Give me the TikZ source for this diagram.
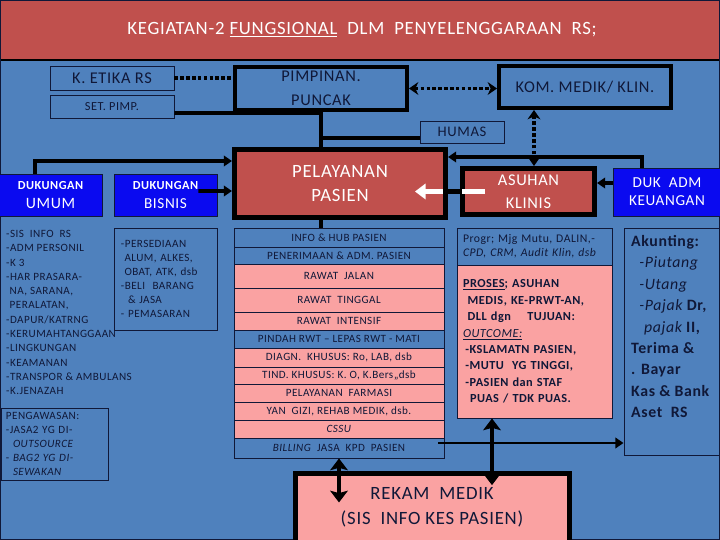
\documentclass[tikz,border=0pt]{standalone}
\usepackage{fontspec}
\setmainfont{Carlito}[LetterSpace=4]
\usetikzlibrary{arrows.meta}
\definecolor{slidered}{RGB}{192,80,77}
\definecolor{slideblue}{RGB}{79,129,189}
\definecolor{brightblue}{RGB}{10,10,240}
\definecolor{pinkfill}{RGB}{250,162,162}
\definecolor{inkblue}{RGB}{16,24,56}
\newcommand{\softit}[1]{{\mdseries\itshape #1}}
\begin{document}
\begin{tikzpicture}[x=0.03cm,y=-0.03cm,
    every node/.style={text=inkblue},
    thinbox/.style={draw=inkblue,line width=0.8pt,inner sep=0pt},
    heavybox/.style={draw=black,inner sep=0pt},
    bluerow/.style={thinbox,fill=slideblue,minimum width=6.3cm,font=\fontsize{9.5}{10}\selectfont},
    pinkrow/.style={bluerow,fill=pinkfill},
    conn/.style={draw=black,line width=3.4pt},
    dotconn/.style={conn,dash pattern=on 3pt off 2pt},
    bigtwoway/.style={conn,line width=4pt,arrows={Stealth[length=10pt,width=15pt,inset=2pt]-Stealth[length=10pt,width=15pt,inset=2pt]}},
    >={Triangle[length=7pt,width=9pt]}]
    \useasboundingbox (0,0) rectangle (720,540);

    % Slide background
    \fill[slideblue] (0,0) rectangle (720,540);
    \fill[slidered] (0,0) rectangle (720,60);
    \draw[black,line width=1pt] (0,60) -- (720,60);
    \draw[inkblue,line width=1.2pt] (0,0) rectangle (720,540);
    \node[text=white,font=\fontsize{16}{18}\selectfont] (title) at (362,30)
        {KEGIATAN-2 \underline{FUNGSIONAL}\ \ DLM\ \ PENYELENGGARAAN\ \ RS;};

    % Top management
    \node[thinbox,minimum width=3.72cm,minimum height=0.72cm,font=\fontsize{14}{15}\selectfont] (etika) at (112,78) {K. ETIKA RS};
    \node[thinbox,minimum width=3.72cm,minimum height=0.69cm,font=\fontsize{10.5}{11}\selectfont] (setpimp) at (112,106.5) {SET. PIMP.};
    \node[heavybox,line width=3.4pt,minimum width=5.16cm,minimum height=1.29cm,align=center,font=\fontsize{14}{20}\selectfont] (pimpinan) at (321,88.5) {PIMPINAN.\\PUNCAK};
    \node[heavybox,line width=3.4pt,minimum width=5.16cm,minimum height=1.26cm,font=\fontsize{14}{15}\selectfont] (kom) at (585,87) {KOM. MEDIK/ KLIN.};
    \node[thinbox,minimum width=2.52cm,minimum height=0.66cm,font=\fontsize{12.5}{13}\selectfont] (humas) at (462,132) {HUMAS};

    % Main functions
    \node[heavybox,fill=slidered,line width=4.25pt,minimum width=6.33cm,minimum height=2.04cm,align=center,text=white,font=\fontsize{16}{20}\selectfont] (pelayanan) at (340,183.5) {PELAYANAN\\PASIEN};
    \node[heavybox,fill=slidered,line width=4.25pt,minimum width=3.96cm,minimum height=1.38cm,align=center,text=white,font=\fontsize{14}{19.5}\selectfont] (asuhan) at (528.5,191.5) {ASUHAN\\KLINIS};
    \node[thinbox,fill=brightblue,minimum width=3.24cm,minimum height=1.44cm,align=center,text=white,font=\fontsize{13}{15.5}\selectfont] (dukadm) at (667,192) {DUK\ \ ADM\\KEUANGAN};
    \node[thinbox,fill=brightblue,minimum width=3.09cm,minimum height=1.26cm,align=center,text=white,font=\fontsize{13.5}{16}\selectfont] (umum) at (50.5,195) {{\fontsize{10.5}{12}\selectfont\bfseries DUKUNGAN}\\UMUM};
    \node[thinbox,fill=brightblue,minimum width=3.09cm,minimum height=1.26cm,align=center,text=white,font=\fontsize{13}{16}\selectfont] (bisnis) at (165.5,195) {{\fontsize{10.5}{12}\selectfont\bfseries DUKUNGAN}\\BISNIS};

    % Support lists
    \node[anchor=north west,inner sep=0pt,align=left,font=\fontsize{9.5}{12.2}\selectfont] (umumlist) at (6,230)
        {-SIS\ \ INFO\ \ RS\\-ADM PERSONIL\\-K 3\\-HAR PRASARA-\\\hspace*{3pt}NA, SARANA,\\\hspace*{3pt}PERALATAN,\\-DAPUR/KATRNG\\-KERUMAHTANGGAAN\\-LINGKUNGAN\\-KEAMANAN\\-TRANSPOR \& AMBULANS\\-K.JENAZAH};
    \node[thinbox,minimum height=3.06cm,text width=2.67cm,inner xsep=0.21cm,align=left,font=\fontsize{9.5}{12}\selectfont] (bisnislist) at (165.5,279)
        {-PERSEDIAAN\\\hspace*{3pt}ALUM, ALKES,\\\hspace*{3pt}OBAT, ATK, dsb\\-BELI\ \ BARANG\\\hspace*{6pt}\& JASA\\- PEMASARAN};
    \node[thinbox,minimum height=2.16cm,text width=2.91cm,inner xsep=0.15cm,align=left,font=\fontsize{9.5}{12.1}\selectfont] (pengawasan) at (54.5,444)
        {PENGAWASAN:\\-JASA2 YG DI-\\\hspace*{6pt}\textit{OUTSOURCE}\\- \textit{BAG2 YG DI-}\\\hspace*{6pt}\textit{SEWAKAN}};

    % Patient services
    \node[bluerow,minimum height=0.57cm] (info) at (339,237.5) {INFO \& HUB PASIEN};
    \node[bluerow,minimum height=0.51cm] (terima) at (339,255.5) {PENERIMAAN \& ADM. PASIEN};
    \node[pinkrow,minimum height=0.72cm] (jalan) at (339,276) {RAWAT\ \ JALAN};
    \node[pinkrow,minimum height=0.72cm] (tinggal) at (339,300) {RAWAT\ \ TINGGAL};
    \node[pinkrow,minimum height=0.54cm] (intensif) at (339,321) {RAWAT\ \ INTENSIF};
    \node[bluerow,minimum height=0.54cm] (pindah) at (339,339) {PINDAH RWT -- LEPAS RWT - MATI};
    \node[pinkrow,minimum height=0.57cm] (diagn) at (339,357.5) {DIAGN.\ \ KHUSUS: Ro, LAB, dsb};
    \node[pinkrow,minimum height=0.51cm] (tind) at (339,375.5) {TIND. KHUSUS: K. O, K.Bers,,dsb};
    \node[pinkrow,minimum height=0.54cm] (farmasi) at (339,393) {PELAYANAN\ \ FARMASI};
    \node[pinkrow,minimum height=0.54cm] (gizi) at (339,411) {YAN\ \ GIZI, REHAB MEDIK, dsb.};
    \node[pinkrow,minimum height=0.54cm] (cssu) at (339,429) {\textit{CSSU}};
    \node[bluerow,minimum height=0.6cm] (billing) at (339,448) {\textit{BILLING}\ \ JASA\ \ KPD\ \ PASIEN};

    % Clinical care
    \node[thinbox,fill=slideblue,minimum height=1.11cm,text width=4.29cm,inner xsep=0.18cm,align=left,font=\fontsize{10}{12}\selectfont] (progr) at (534.5,246.5)
        {Progr; Mjg Mutu, DALIN,-\\\textit{CPD, CRM, Audit Klin, dsb}};
    \node[thinbox,fill=pinkfill,minimum height=4.59cm,text width=4.29cm,inner xsep=0.18cm,align=left,font=\fontsize{10.5}{14}\selectfont\bfseries] (proses) at (534.5,341.5)
        {\underline{PROSES}; ASUHAN\\\hspace*{4pt}MEDIS, KE-PRWT-AN,\\\hspace*{4pt}DLL dgn\ \ \ \ TUJUAN:\\\underline{\softit{OUTCOME:}}\\\hspace*{2pt}-KSLAMATN PASIEN,\\\hspace*{2pt}-MUTU\ \ YG TINGGI,\\\hspace*{2pt}-PASIEN dan STAF\\\hspace*{6pt}PUAS / TDK PUAS.};

    % Finance
    \node[thinbox,minimum width=2.94cm,minimum height=6.81cm] (akunting) at (673,341.5) {};
    \node[anchor=north west,inner sep=0pt,align=left,font=\fontsize{13.5}{18.3}\selectfont\bfseries] (akuntext) at (631,235)
        {Akunting:\\\hspace*{7pt}\softit{-Piutang}\\\hspace*{7pt}\softit{-Utang}\\\hspace*{7pt}\softit{-Pajak} Dr,\\\hspace*{11pt}\softit{pajak} II,\\Terima \&\\. Bayar\\Kas \& Bank\\Aset\ \ RS};

    % Medical record
    \node[heavybox,fill=pinkfill,line width=4.25pt,minimum width=8.22cm,minimum height=2.6cm] (rekam) at (432.5,516.75) {};
    \node[align=center,font=\fontsize{16}{21}\selectfont] (rekamtext) at (432,507) {REKAM\ \ MEDIK\\(SIS\ \ INFO KES PASIEN)};

    % Connectors at the top
    \draw[dotconn,line width=3pt] (etika.east) -- (etika.east -| pimpinan.west);
    \draw[dotconn,arrows={Stealth[length=8pt,width=11pt]-Stealth[length=8pt,width=11pt]}] (pimpinan.east) -- (pimpinan.east -| kom.west);
    \coordinate (spine) at (321,113);
    \draw[conn] ([yshift=-0.195cm]setpimp.east) -- (spine);
    \draw[conn] (pimpinan.south) -- (pimpinan.south |- pelayanan.north);
    \coordinate (humasin) at ([yshift=-0.18cm]humas.west);
    \draw[conn] (humasin) -- (humasin -| pimpinan.south);
    \coordinate (asutop) at ([xshift=0.165cm]asuhan.north);
    \draw[dotconn,arrows={Stealth[length=8pt,width=11pt]-Stealth[length=8pt,width=11pt]}] (asutop) -- (asutop |- kom.south);

    % Into the main functions
    \draw[conn,->] ([xshift=-0.465cm]umum.north) |- ([yshift=0.675cm]pelayanan.west);
    \draw[conn,->] ([xshift=-0.57cm,yshift=0.12cm]bisnis.east) -- ([yshift=-0.225cm]pelayanan.west);
    \draw[conn,->] ([xshift=-0.75cm]dukadm.north) |- ([yshift=0.795cm]pelayanan.east);
    \draw[conn,->] ([yshift=0.27cm]dukadm.west) -- ([yshift=0.255cm]asuhan.east);
    \coordinate (gap) at (asuhan.west -| pelayanan.east);
    \draw[white,line width=5pt,-{Triangle[length=9pt,width=13pt]}] ([xshift=0.75cm]asuhan.west) -- ([xshift=-0.99cm]gap);
    \draw[black,line width=5pt] ([xshift=-0.15cm]gap) -- ([xshift=0.06cm]asuhan.west);
    \draw[conn] (pimpinan.south |- pelayanan.south) -- (pimpinan.south |- info.north);

    % Bottom connectors
    \draw[bigtwoway] (billing.south) -- ([yshift=-1.32cm]billing.south);
    \coordinate (prosesbot) at ([xshift=-1.275cm]proses.south);
    \draw[bigtwoway] (prosesbot) -- ([yshift=-2.0cm]prosesbot);
    \coordinate (billout) at ([xshift=-0.18cm,yshift=0.15cm]billing.east);
    \draw[conn,line width=2.5pt,->] (billout) -- (billout -| akunting.west);
\end{tikzpicture}
\end{document}
